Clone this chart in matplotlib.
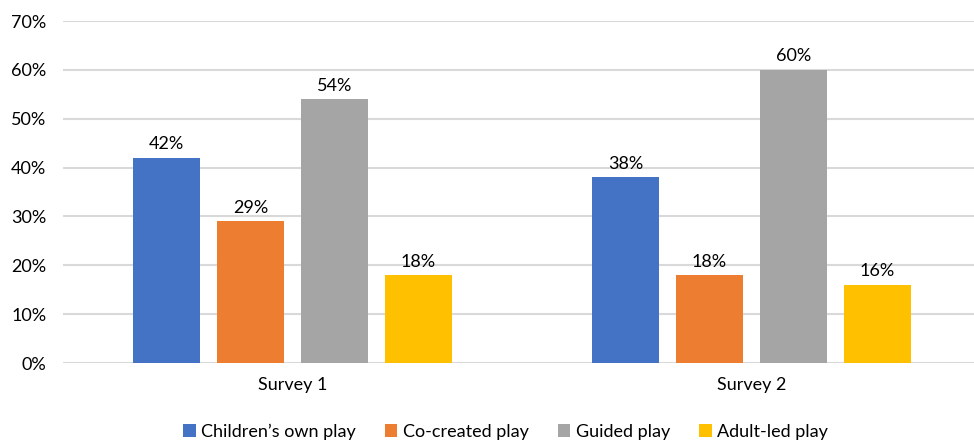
import matplotlib.pyplot as plt
import numpy as np

plt.rcParams['font.family'] = ['Lato', 'DejaVu Sans']

surveys = ["Survey 1", "Survey 2"]
series = ["Children\u2019s own play", "Co-created play", "Guided play", "Adult-led play"]
# values per series: (survey 1, survey 2)
values = [
    [42, 38],
    [29, 18],
    [54, 60],
    [18, 16],
]
colors = ["#4472C4", "#ED7D31", "#A5A5A5", "#FFC000"]

fig = plt.figure(figsize=(9.74, 4.42), dpi=100)
ax = fig.add_axes([63 / 974, 79 / 442, 918 / 974, 342 / 442])

x = np.arange(len(surveys))
bw = 0.144
step = 0.183
for i, (name, vals, c) in enumerate(zip(series, values, colors)):
    pos = x + (i - 1.5) * step
    bars = ax.bar(pos, vals, bw, color=c, label=name, zorder=3)
    for b, v in zip(bars, vals):
        ax.annotate(f"{v}%", (b.get_x() + b.get_width() / 2, v),
                    xytext=(0, 4), textcoords="offset points",
                    ha="center", va="bottom", fontsize=13, color="#000000")

ax.set_xlim(-0.5, 1.5)
ax.set_ylim(0, 70)
ax.set_yticks(range(0, 71, 10))
ax.set_yticklabels([f"{t}%" for t in range(0, 71, 10)], fontsize=13)
ax.set_xticks(x)
ax.set_xticklabels(surveys, fontsize=13)
ax.tick_params(length=0)
ax.tick_params(axis='x', pad=10)
ax.tick_params(axis='y', pad=12)
for s in ax.spines.values():
    s.set_visible(False)
ax.grid(axis='y', color="#D9D9D9", linewidth=1.5, zorder=0)
ax.set_axisbelow(True)

ax.legend(loc="upper center", bbox_to_anchor=(0.482, -0.13), ncol=4,
          frameon=False, fontsize=13, handlelength=0.7, handleheight=0.7,
          handletextpad=0.3, columnspacing=1.6)

fig.savefig("out.png", dpi=100)
